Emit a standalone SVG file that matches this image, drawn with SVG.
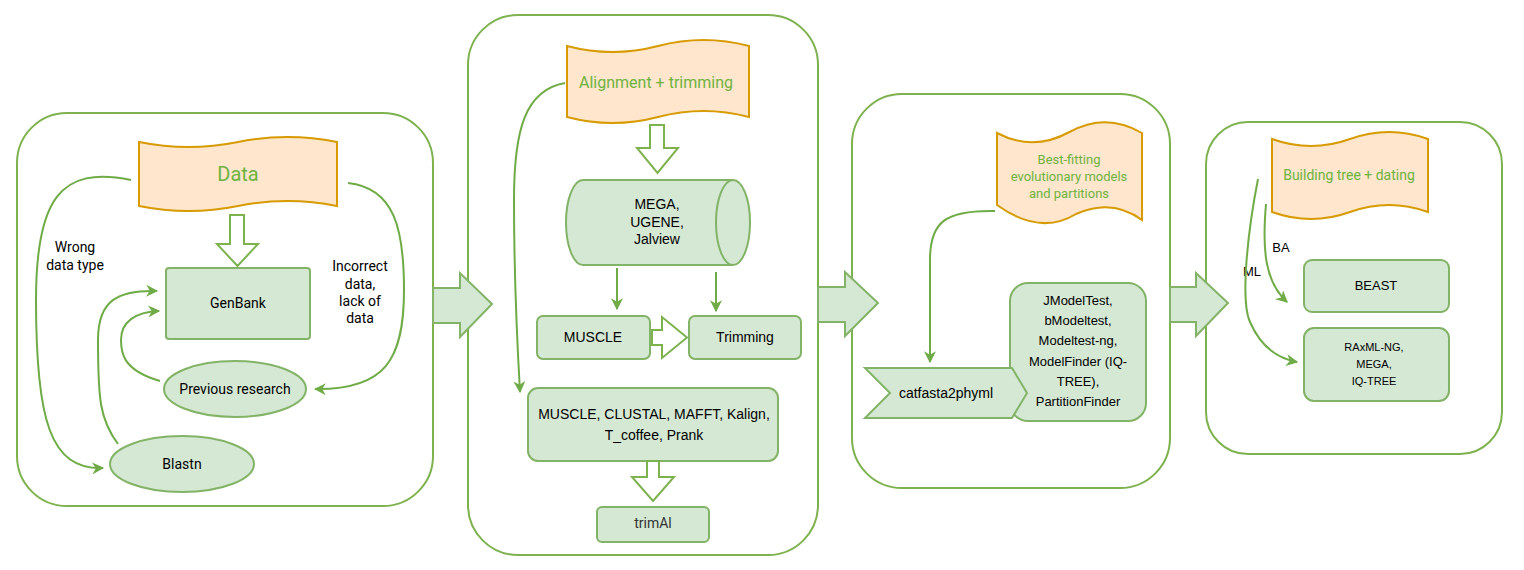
<svg xmlns="http://www.w3.org/2000/svg" width="1524" height="570" viewBox="0 0 1524 570">
<defs>
<style>
.panel{fill:#ffffff;stroke:#7db24f;stroke-width:2}
.node{fill:#d5e8d4;stroke:#82b366;stroke-width:2}
.tape{fill:#ffe6cc;stroke:#d79b00;stroke-width:2}
.hollow{fill:#ffffff;stroke:#7db24f;stroke-width:2;stroke-linejoin:miter}
.big{fill:#d5e8d4;stroke:#82b366;stroke-width:2}
.conn{fill:none;stroke:#6fab46;stroke-width:2}
.r{font-family:Roboto,"Liberation Sans",sans-serif}
.h{font-family:"Liberation Sans",Arial,sans-serif}
.g{fill:#6db33f}
.k{fill:#000000}
</style>
<marker id="arr" viewBox="0 0 10 10" refX="9" refY="5" markerWidth="12" markerHeight="12" markerUnits="userSpaceOnUse" orient="auto">
<path d="M0,0 L10,5 L0,10 L3,5 Z" fill="#6fab46"/>
</marker>
</defs>
<rect width="1524" height="570" fill="#ffffff"/>

<g id="panel1">
<rect class="panel" x="17" y="113" width="416" height="393" rx="50"/>
</g>
<g id="panel2">
<rect class="panel" x="468" y="15" width="350" height="540" rx="50"/>
</g>
<g id="panel3">
<rect class="panel" x="852" y="94" width="318" height="394" rx="50"/>
</g>
<g id="panel4">
<rect class="panel" x="1206" y="122" width="296" height="332" rx="42"/>
</g>

<g id="transfer-arrows">
<polygon class="big" points="433,288 460,288 460,273 492,304 460,337 460,323 433,323"/>
<polygon class="big" points="818,287 845,287 845,272 878,303 845,336 845,322 818,322"/>
<polygon class="big" points="1170,287 1196,287 1196,273 1228,303 1196,336 1196,322 1170,322"/>
</g>

<g id="data">
<path class="tape" d="M139,142 Q188.5,152 238,142 Q287.5,132 337,142 L337,206 Q287.5,196 238,206 Q188.5,216 139,206 Z"/>
<text class="r g" x="238" y="181" font-size="20" text-anchor="middle">Data</text>
</g>
<g id="genbank">
<rect class="node" x="166" y="268" width="144" height="71" rx="3"/>
<text class="r k" x="238" y="308" font-size="14" text-anchor="middle">GenBank</text>
</g>
<g id="previous-research">
<ellipse class="node" cx="235" cy="389" rx="71" ry="28"/>
<text class="r k" x="235" y="394" font-size="14" text-anchor="middle">Previous research</text>
</g>
<g id="blastn">
<ellipse class="node" cx="182" cy="464" rx="72" ry="28"/>
<text class="r k" x="182" y="469" font-size="14" text-anchor="middle">Blastn</text>
</g>
<g id="label-wrong">
<text class="r k" font-size="14" text-anchor="middle"><tspan x="75" y="252">Wrong</tspan><tspan x="75" y="270">data type</tspan></text>
</g>
<g id="label-incorrect">
<text class="r k" font-size="14" text-anchor="middle"><tspan x="360" y="271">Incorrect</tspan><tspan x="360" y="289">data,</tspan><tspan x="360" y="306">lack of</tspan><tspan x="360" y="323">data</tspan></text>
</g>

<g id="alignment">
<path class="tape" d="M567,46 Q612.5,58 658,46 Q703.5,34 749,46 L749,117 Q703.5,105 658,117 Q612.5,129 567,117 Z"/>
<text class="r g" x="656" y="88" font-size="16" text-anchor="middle">Alignment + trimming</text>
</g>
<g id="mega-cylinder">
<path class="node" d="M583,180 L733,180 A17,42.5 0 0 1 733,265 L583,265 A17,42.5 0 0 1 583,180 Z"/>
<path d="M733,180 A17,42.5 0 0 0 733,265" fill="none" stroke="#82b366" stroke-width="2"/>
<text class="h k" font-size="14" text-anchor="middle"><tspan x="657" y="209">MEGA,</tspan><tspan x="657" y="227">UGENE,</tspan><tspan x="657" y="244">Jalview</tspan></text>
</g>
<g id="muscle">
<rect class="node" x="537" y="316" width="113" height="43" rx="6"/>
<text class="h k" x="593" y="342" font-size="14" text-anchor="middle">MUSCLE</text>
</g>
<g id="trimming">
<rect class="node" x="689" y="316" width="112" height="43" rx="6"/>
<text class="h k" x="745" y="342" font-size="14" text-anchor="middle">Trimming</text>
</g>
<g id="aligners">
<rect class="node" x="528" y="388" width="250" height="73" rx="10"/>
<text class="h k" font-size="14" text-anchor="middle"><tspan x="654" y="419">MUSCLE, CLUSTAL, MAFFT, Kalign,</tspan><tspan x="654" y="440">T_coffee, Prank</tspan></text>
</g>
<g id="trimal">
<rect class="node" x="597" y="507" width="112" height="35" rx="5"/>
<text class="r" x="653" y="528" font-size="14" text-anchor="middle" fill="#333333">trimAl</text>
</g>

<g id="best-fitting">
<path class="tape" d="M997,133 Q1033,152 1069.5,132 Q1106,112 1142,133 L1142,220 Q1112,198 1076,214 Q1040,236 997,205 Z"/>
<text class="r g" font-size="13" text-anchor="middle"><tspan x="1069" y="164">Best-fitting</tspan><tspan x="1069" y="181">evolutionary models</tspan><tspan x="1069" y="198">and partitions</tspan></text>
</g>
<g id="modeltest">
<rect class="node" x="1010" y="283" width="136" height="138" rx="18"/>
<text class="h k" font-size="13" text-anchor="middle"><tspan x="1078" y="305">JModelTest,</tspan><tspan x="1078" y="325">bModeltest,</tspan><tspan x="1078" y="345">Modeltest-ng,</tspan><tspan x="1078" y="366">ModelFinder (IQ-</tspan><tspan x="1078" y="386">TREE),</tspan><tspan x="1078" y="406">PartitionFinder</tspan></text>
</g>
<g id="catfasta2phyml">
<polygon class="node" points="865,368 1012,368 1027,393 1012,418 865,418 890,393"/>
<text class="h k" x="946" y="398" font-size="14" text-anchor="middle">catfasta2phyml</text>
</g>

<g id="building-tree">
<path class="tape" d="M1272,139 Q1311,153 1350,139 Q1389,125 1428,139 L1428,212 Q1389,198 1350,212 Q1311,226 1272,212 Z"/>
<text class="r g" x="1349" y="180" font-size="14" text-anchor="middle">Building tree + dating</text>
</g>
<g id="beast">
<rect class="node" x="1304" y="260" width="145" height="52" rx="8"/>
<text class="h k" x="1376" y="290" font-size="13" text-anchor="middle">BEAST</text>
</g>
<g id="raxml">
<rect class="node" x="1304" y="328" width="145" height="73" rx="10"/>
<text class="h k" font-size="11" text-anchor="middle"><tspan x="1374" y="351">RAxML-NG,</tspan><tspan x="1374" y="368">MEGA,</tspan><tspan x="1374" y="385">IQ-TREE</tspan></text>
</g>
<g id="label-ba">
<text class="h k" x="1281" y="252" font-size="13" text-anchor="middle">BA</text>
</g>
<g id="label-ml">
<text class="h k" x="1252" y="276" font-size="13" text-anchor="middle">ML</text>
</g>

<g id="hollow-arrows">
<polygon class="hollow" points="230,215 244,215 244,244 258,244 237.5,266 217,244 230,244"/>
<polygon class="hollow" points="650,125 664,125 664,148 678,148 657.5,173 637,148 650,148"/>
<polygon class="hollow" points="652,330 662,330 662,317 687,337.5 662,358 662,345 652,345"/>
<polygon class="hollow" points="647,461 659,461 659,477 674,477 653,501 632,477 647,477"/>
</g>

<g id="connectors">
<path class="conn" d="M131,180 C60,165 36,200 36,300 C36,420 50,470 103,468" marker-end="url(#arr)"/>
<path class="conn" d="M348,183 C395,188 404,230 404,290 C404,360 385,390 315,389" marker-end="url(#arr)"/>
<path class="conn" d="M118,444 C100,420 98,400 98,340 C98,300 118,290 157,291" marker-end="url(#arr)"/>
<path class="conn" d="M160,381 C122,370 121,352 121,340 C121,322 135,312 159,311" marker-end="url(#arr)"/>
<path class="conn" d="M565,83 C525,90 514,130 514,200 C514,280 517,340 520,392" marker-end="url(#arr)"/>
<path class="conn" d="M617,268 L617,309" marker-end="url(#arr)"/>
<path class="conn" d="M716,272 L716,311" marker-end="url(#arr)"/>
<path class="conn" d="M995,211 C945,210 930,222 930,260 L930,362" marker-end="url(#arr)"/>
<path class="conn" d="M1258,179 C1248,230 1240,300 1250,322 C1260,345 1275,358 1297,362" marker-end="url(#arr)"/>
<path class="conn" d="M1266,204 C1262,250 1265,282 1287,302" marker-end="url(#arr)"/>
</g>
</svg>
